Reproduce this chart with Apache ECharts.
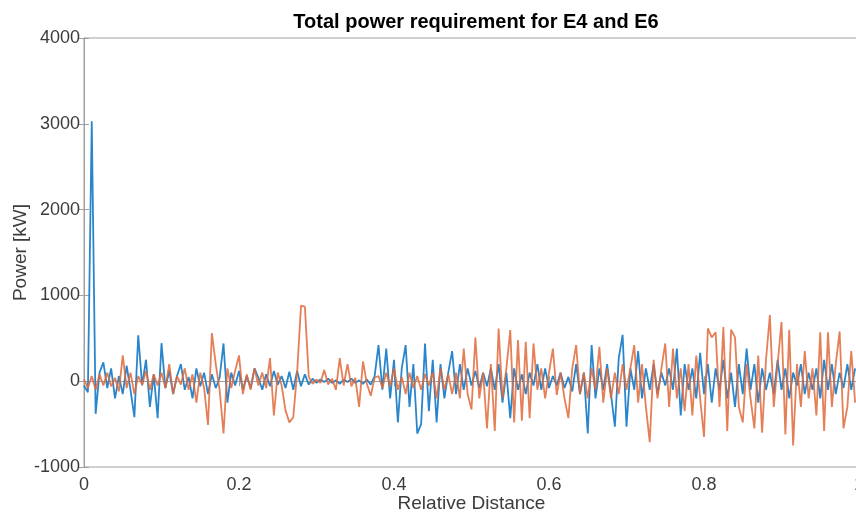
<!DOCTYPE html>
<html>
<head>
<meta charset="utf-8">
<script src="https://cdn.jsdelivr.net/npm/echarts@6/dist/echarts.min.js"></script>
<style>html,body{margin:0;padding:0;background:#fff}#c{width:856px;height:514px}</style>
</head>
<body>
<div id="c"></div>
<script>
// Sample spacing along relative distance (evenly sampled)
const distanceStep = 0.005;
const xTicks = [0, 0.2, 0.4, 0.6, 0.8, 1];
const yTicks = [-1000, 0, 1000, 2000, 3000, 4000];

const powerE4 = [
 -50,-130,3030,-380,100,220,-80,150,-200,60,
 -150,180,-100,-420,536,-50,250,-300,80,-430,
 443,-80,120,-150,60,200,-100,50,-200,150,
 -60,100,-150,80,-80,40,440,-250,100,-50,
 120,-100,60,-80,150,40,-100,80,-60,120,
 -40,60,-80,110,-100,120,-60,80,-40,30,
 -20,20,-10,30,-20,10,-30,20,-10,30,
 -20,10,-30,20,-40,60,420,-100,380,-200,
 250,-480,150,420,-300,200,-610,-500,440,-350,
 250,-480,200,-200,100,350,-150,200,-100,150,
 -50,120,-80,100,-60,150,-100,200,-250,100,
 -430,150,-100,80,-150,100,-50,200,-100,150,
 -80,60,-50,100,-80,50,-120,200,-150,100,
 -610,420,-200,150,-100,200,-150,-530,270,540,
 -530,150,-100,350,-200,150,-100,200,-150,100,
 -50,150,-100,380,-400,200,-100,150,-200,330,
 -150,200,-250,150,-100,250,-200,100,-300,200,
 -150,380,-100,200,-250,150,-100,100,-150,250,
 -100,150,-200,100,-50,200,-150,100,-100,150,
 -200,250,-100,200,-150,100,-80,200,-100,150
];

const powerE6 = [
 20,-80,60,-100,80,-50,100,-60,40,-120,
 300,-80,100,-150,60,-40,120,-100,80,-50,
 100,-80,200,-150,60,-40,150,-100,80,-250,
 100,-80,-510,560,200,-100,-610,150,-80,120,
 300,-150,80,-100,150,-50,100,-80,270,-400,
 100,-50,-340,-480,-420,100,880,870,50,-30,
 20,-20,130,-40,30,-100,270,-50,200,-60,
 40,-300,230,-30,-170,40,60,-80,100,-60,
 150,-100,50,-150,100,-80,60,-100,80,-50,
 100,-200,150,-100,80,-150,100,-200,380,-150,
 -330,510,-200,100,-550,200,-580,615,-200,150,
 595,-480,480,-460,460,-430,440,-100,150,-200,
 100,380,-160,100,-200,-430,150,420,-150,100,
 -200,150,-100,400,-250,150,-200,100,-150,200,
 -100,150,420,-250,200,-300,-710,250,-200,150,
 440,-300,380,-200,150,-350,200,-400,300,-200,
 -650,615,510,570,-300,630,-580,600,510,-300,
 -480,200,-200,-550,300,-600,250,770,-300,200,
 690,-620,600,-750,200,-300,350,-200,150,-400,
 570,-580,570,-300,200,580,-550,-300,350,-250
];

function toPairs(vals) {
  return vals.map((v, i) => [+(i * distanceStep).toFixed(4), v]);
}

const labelColor = '#3c3c3c';
const frameColor = '#a0a0a0';
const font = 'Liberation Sans, Arial, Helvetica, sans-serif';

const chart = echarts.init(document.getElementById('c'), null, {renderer: 'canvas'});
const baseX = {
  type: 'value', min: xTicks[0], max: xTicks[xTicks.length - 1], interval: 0.2,
  axisLine: {show: true, lineStyle: {color: frameColor, width: 1}},
  axisTick: {show: true, inside: true, length: 5, lineStyle: {color: frameColor}},
  splitLine: {show: false}
};
const baseY = {
  type: 'value', min: yTicks[0], max: yTicks[yTicks.length - 1], interval: 1000,
  axisLine: {show: true, lineStyle: {color: frameColor, width: 1}},
  axisTick: {show: true, inside: true, length: 5, lineStyle: {color: frameColor}},
  splitLine: {show: false}
};
chart.setOption({
  animation: false,
  backgroundColor: '#ffffff',
  title: {
    text: 'Total power requirement for E4 and E6',
    left: 471, top: 7, textAlign: 'center',
    textStyle: {fontFamily: font, fontSize: 20, fontWeight: 'bold', color: '#000'}
  },
  grid: {left: 84, top: 38, width: 775, height: 429, show: true, borderColor: frameColor, borderWidth: 1,
    containLabel: false, outerBoundsMode: 'none'},
  xAxis: [
    Object.assign({}, baseX, {
      position: 'bottom',
      name: 'Relative Distance', nameLocation: 'middle', nameGap: 27, nameMoveOverlap: false,
      nameTextStyle: {fontFamily: font, fontSize: 19, color: labelColor},
      axisLabel: {show: true, margin: 9, fontFamily: font, fontSize: 18, color: labelColor,
        formatter: v => String(+(+v).toFixed(4))}
    }),
    Object.assign({}, baseX, {position: 'top', axisLabel: {show: false}})
  ],
  yAxis: [
    Object.assign({}, baseY, {
      position: 'left',
      name: 'Power [kW]', nameLocation: 'middle', nameGap: 54, nameMoveOverlap: false,
      nameTextStyle: {fontFamily: font, fontSize: 19, color: labelColor},
      axisLabel: {show: true, margin: 4, fontFamily: font, fontSize: 18, color: labelColor,
        formatter: v => String(v)}
    }),
    Object.assign({}, baseY, {position: 'right', axisLabel: {show: false}})
  ],
  series: [
    {
      name: 'E4', type: 'line', data: toPairs(powerE4), showSymbol: false, symbol: 'none',
      lineStyle: {color: '#2a86cc', width: 1.8}, z: 2
    },
    {
      name: 'E6', type: 'line', data: toPairs(powerE6), showSymbol: false, symbol: 'none',
      lineStyle: {color: '#e0693a', width: 1.8, opacity: 0.85}, z: 3
    }
  ]
});
</script>
</body>
</html>
